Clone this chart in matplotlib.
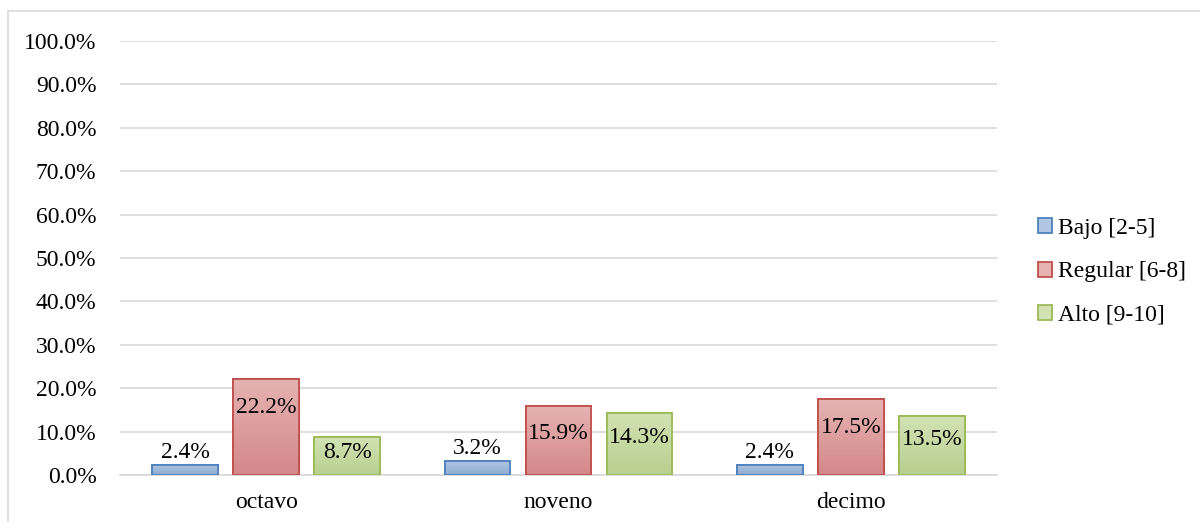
import numpy as np
import matplotlib.pyplot as plt
from matplotlib.patches import Rectangle
from matplotlib.colors import LinearSegmentedColormap

plt.rcParams['font.family'] = ['Liberation Serif', 'DejaVu Serif']

categories = ["octavo", "noveno", "decimo"]
series_names = ["Bajo [2-5]", "Regular [6-8]", "Alto [9-10]"]
bajo = [2.4, 3.2, 2.4]
regular = [22.2, 15.9, 17.5]
alto = [8.7, 14.3, 13.5]

values = [bajo, regular, alto]
edge_colors = ["#4F81BD", "#C0504D", "#9BBB59"]
top_colors = ["#B0C6E2", "#E6B3B2", "#D2E2B4"]
bottom_colors = ["#8EABD3", "#D4888A", "#B8D08E"]
fs = 17

fig = plt.figure(figsize=(12, 5.22), dpi=100)
fig.patches.append(Rectangle((8 / 1200, -0.1), 1.2, (522 - 11) / 522 + 0.1,
                             transform=fig.transFigure, fill=False,
                             edgecolor="#D9D9D9", linewidth=1.2))
ax = fig.add_axes([120 / 1200, 47 / 522, 877 / 1200, 434 / 522])

x = np.arange(len(categories))
width = 0.225
gap = 0.052
offsets = [-(width + gap), 0, width + gap]

for i, (vals, name) in enumerate(zip(values, series_names)):
    bars = ax.bar(x + offsets[i], [v / 100 for v in vals], width,
                  color=top_colors[i], edgecolor=edge_colors[i],
                  linewidth=1.3, label=name, zorder=3)
    cmap = LinearSegmentedColormap.from_list("g", [bottom_colors[i], top_colors[i]])
    for b, v in zip(bars, vals):
        x0, y0 = b.get_x(), b.get_y()
        w, h = b.get_width(), b.get_height()
        im = ax.imshow(np.linspace(0, 1, 50).reshape(-1, 1), cmap=cmap,
                       origin="lower", aspect="auto",
                       extent=[x0, x0 + w, y0, y0 + h], zorder=3.5)
        im.set_clip_path(b)
        ax.add_patch(Rectangle((x0, y0), w, h, fill=False,
                               edgecolor=edge_colors[i], linewidth=1.3, zorder=4))
        if i == 0:
            ax.text(x0 + w / 2, y0 + h + 0.004, f"{v:.1f}%", ha="center",
                    va="bottom", fontsize=fs, zorder=5)
        else:
            yc = max(h - 0.066, h * 0.6)
            ax.text(x0 + w / 2, yc, f"{v:.1f}%", ha="center",
                    va="center", fontsize=fs, zorder=5)

ax.set_xlim(-0.5, 2.5)
ax.set_ylim(0, 1.0)
ax.set_yticks(np.arange(0, 1.01, 0.1))
ax.set_yticklabels([f"{t * 100:.1f}%" for t in np.arange(0, 1.01, 0.1)], fontsize=fs)
ax.set_xticks(x)
ax.set_xticklabels(categories, fontsize=fs)
ax.tick_params(axis="both", length=0)
ax.tick_params(axis="x", pad=12)
ax.tick_params(axis="y", pad=17)
ax.grid(axis="y", color="#D9D9D9", linewidth=1.2, zorder=0)
ax.set_axisbelow(True)
for s in ["top", "right", "left"]:
    ax.spines[s].set_visible(False)
ax.spines["bottom"].set_color("#D9D9D9")
ax.spines["bottom"].set_linewidth(1.2)

handles, labels = ax.get_legend_handles_labels()
ax.legend(handles, labels, loc="center left",
          bbox_to_anchor=(1038 / 1200, (522 - 272) / 522),
          bbox_transform=fig.transFigure, frameon=False, fontsize=fs,
          handlelength=0.6, handleheight=0.6, handletextpad=0.25, labelspacing=0.95,
          borderaxespad=0, borderpad=0)

fig.savefig("out.png", dpi=100)
